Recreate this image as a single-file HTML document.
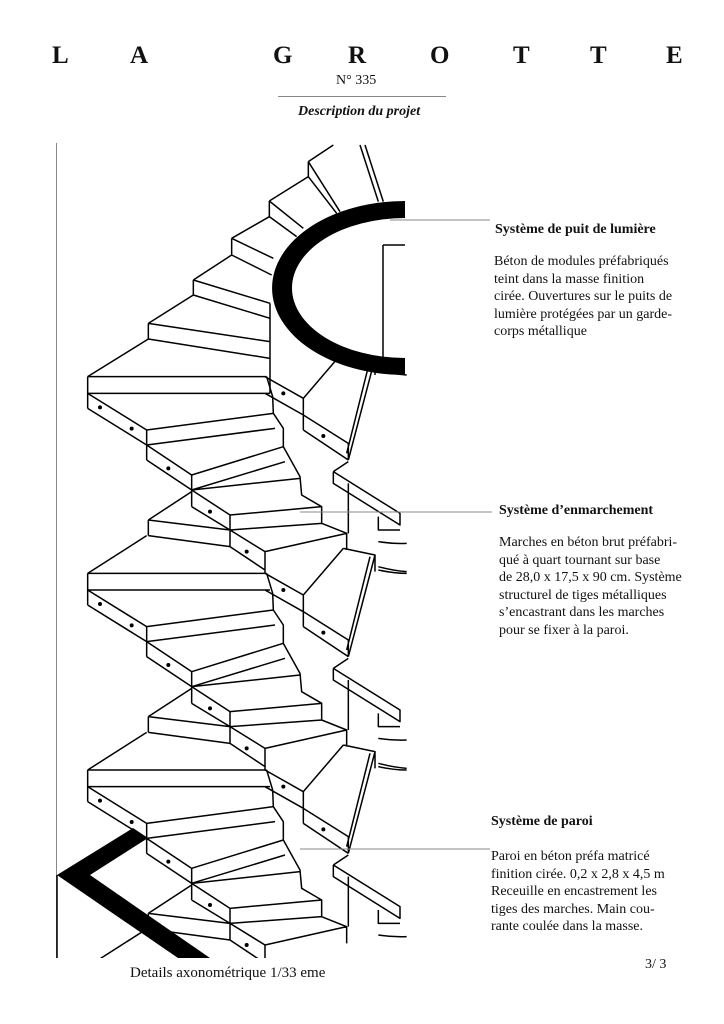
<!DOCTYPE html>
<html><head><meta charset="utf-8"><style>
html,body{margin:0;padding:0;background:#fff;}
body{width:724px;height:1024px;position:relative;overflow:hidden;font-family:"Liberation Serif",serif;color:#111;}
.t{position:absolute;white-space:nowrap;}
.h{font-weight:bold;font-size:25px;top:42px;}
.body{position:absolute;font-size:14px;line-height:17.6px;white-space:nowrap;}
.hd{position:absolute;font-size:14px;font-weight:bold;white-space:nowrap;}
</style></head><body>
<div class="t h" style="left:52px">L</div>
<div class="t h" style="left:130px">A</div>
<div class="t h" style="left:273px">G</div>
<div class="t h" style="left:348px">R</div>
<div class="t h" style="left:430px">O</div>
<div class="t h" style="left:513px">T</div>
<div class="t h" style="left:590px">T</div>
<div class="t h" style="left:666px">E</div>
<div class="t" style="left:336px;top:73px;font-size:14px">N° 335</div>
<div style="position:absolute;left:278px;top:96px;width:168px;height:1px;background:#888"></div>
<div class="t" style="left:298px;top:104px;font-size:14px;font-style:italic;font-weight:bold">Description du projet</div>

<svg style="position:absolute;left:0;top:0" width="724" height="1024">
<defs>
<clipPath id="cp"><rect x="56" y="143" width="352" height="815"/></clipPath>
<g id="mod" fill="none" stroke="#000" stroke-width="4.5" stroke-linejoin="round">
<path d="M113,100 H650 M113,150 H660 M113,100 V195
M113,150 L290,260 M113,195 L290,305
M290,260 L670,210 M290,305 L675,255 M290,260 V350
M290,305 L425,395 M290,350 L425,440
M425,395 L700,310 M425,440 L705,355 M425,395 V490
M425,440 L540,515 M425,490 L540,560
M425,440 L750,405 M540,515 L815,490 M540,560 L815,540 M540,515 V610
M540,560 L645,625 M540,610 L645,680 M645,625 L890,570 M645,625 V690
M650,100 L668,160 L670,210 L700,255 L700,310 L750,400 L755,455 L815,490 L815,540 L890,570 V620
M645,100 L760,165 M645,150 L760,215 M760,165 V260 M760,215 L895,300 M760,260 L895,350 M760,165 L880,25
M880,25 L975,45 L975,95 M975,45 L895,350 M960,50 L890,330 M895,300 V350
M850,385 L895,355 M850,385 V420 L1050,545 V510 L850,385 M895,420 V570
M985,520 V560 H1050 M985,595 Q1030,602 1070,600 M985,80 Q1030,92 1070,95 M985,680 Q1030,690 1070,690
M295,530 L425,445 M295,530 V577 M295,530 L540,560 M295,577 L540,610 M113,690 L290,577"/>
<g fill="#000" stroke="none">
<circle cx="150" cy="192" r="6"/><circle cx="245" cy="256" r="6"/><circle cx="355" cy="375" r="6"/>
<circle cx="480" cy="505" r="6"/><circle cx="590" cy="625" r="6"/><circle cx="700" cy="150" r="6"/><circle cx="820" cy="278" r="6"/>
</g>
</g>
</defs>
<line x1="56.5" y1="143" x2="56.5" y2="958" stroke="#888" stroke-width="1"/>
<g clip-path="url(#cp)">
<g transform="translate(50,540) scale(0.33333)">
<use href="#mod" transform="translate(0,-590)"/>
<use href="#mod"/>
<use href="#mod" transform="translate(0,590)"/>
</g>
<g transform="translate(50,140) scale(0.33333)" fill="none" stroke="#000" stroke-width="4.5" stroke-linejoin="round">
<path d="M113,710 L295,597 M295,550 V597 M295,550 L660,605 M295,597 L660,655
M295,550 L430,465 M430,420 V465 M430,420 L660,490 M430,465 L660,535
M430,420 L545,345 M545,295 V345 M545,295 L670,355 M545,345 L665,405
M545,295 L658,230 M658,183 V230 M658,183 L760,265 M658,230 L740,290
M658,183 L775,110 M775,65 V110 M775,65 L870,215 M775,110 L860,220 M775,65 L850,15
M930,15 L985,185 M945,15 L1000,185 M660,490 V760"/>
</g>
</g>
<path d="M405,218 A113,70 0 0 0 405,358 Z" fill="#fff"/>
<path d="M383,245 H405 M383,245 V358" fill="none" stroke="#000" stroke-width="1.5"/>
<path d="M405,201 A133,87 0 0 0 405,375 L405,358 A113,70 0 0 1 405,218 Z" fill="#000"/>
<polygon points="57,875 133,828 148,838 90,875 210,958 178,958" fill="#000"/>
<line x1="57" y1="875" x2="57" y2="958" stroke="#000" stroke-width="1.5"/>
<line x1="390" y1="220" x2="490" y2="220" stroke="#888" stroke-width="1"/>
<line x1="300" y1="512" x2="492" y2="512" stroke="#888" stroke-width="1"/>
<line x1="300" y1="849" x2="490" y2="849" stroke="#888" stroke-width="1"/>
</svg>

<div class="hd" style="left:495px;top:222px">Système de puit de lumière</div>
<div class="body" style="left:494px;top:253px">Béton de modules préfabriqués<br>teint dans la masse finition<br>cirée. Ouvertures sur le puits de<br>lumière protégées par un garde-<br>corps métallique</div>
<div class="hd" style="left:499px;top:503px">Système d’enmarchement</div>
<div class="body" style="left:499px;top:534px">Marches en béton brut préfabri-<br>qué à quart tournant sur base<br>de 28,0 x 17,5 x 90 cm. Système<br>structurel de tiges métalliques<br>s’encastrant dans les marches<br>pour se fixer à la paroi.</div>
<div class="hd" style="left:491px;top:814px">Système de paroi</div>
<div class="body" style="left:491px;top:848px">Paroi en béton préfa matricé<br>finition cirée. 0,2 x 2,8 x 4,5 m<br>Receuille en encastrement les<br>tiges des marches. Main cou-<br>rante coulée dans la masse.</div>
<div class="t" style="left:645px;top:957px;font-size:14px">3/ 3</div>
<div class="t" style="left:130px;top:965px;font-size:15px">Details axonométrique 1/33 eme</div>
</body></html>
